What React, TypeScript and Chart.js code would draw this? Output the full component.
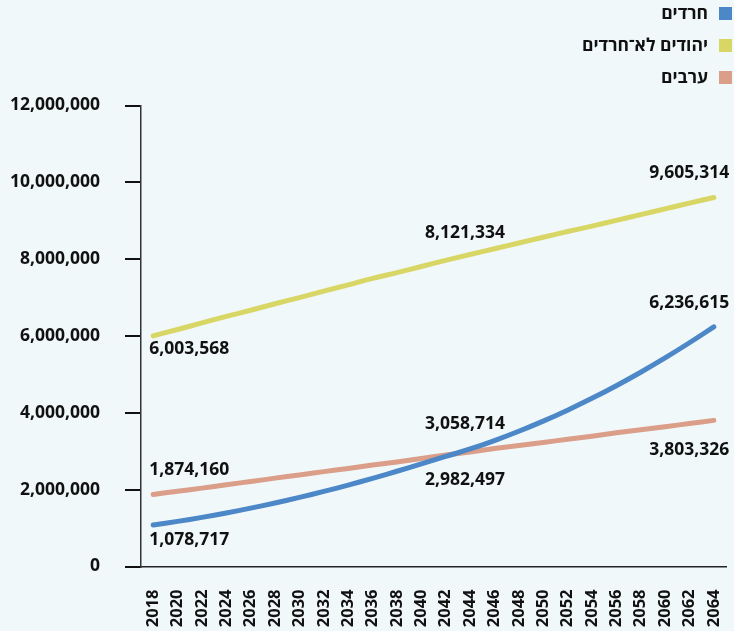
import React, { useEffect, useRef } from "react";
import { Chart, registerables } from "chart.js";

Chart.register(...registerables);

const years = [
  "2018", "2020", "2022", "2024", "2026", "2028", "2030", "2032", "2034", "2036", "2038", "2040",
  "2042", "2044", "2046", "2048", "2050", "2052", "2054", "2056", "2058", "2060", "2062", "2064",
];

const seriesNames = ["חרדים", "יהודים לא־חרדים", "ערבים"];

const haredim = [
  1078717, 1174000, 1279000, 1394000, 1519000, 1654000, 1799000, 1954000, 2119000, 2294000, 2479000, 2669000,
  2864000, 3058714, 3279000, 3521000, 3785000, 4070000, 4377000, 4706000, 5057000, 5430000, 5824000, 6236615,
];

const nonHarediJews = [
  6003568, 6170000, 6340000, 6510000, 6670000, 6840000, 7000000, 7170000, 7330000, 7500000, 7650000, 7810000,
  7970000, 8121334, 8270000, 8420000, 8570000, 8720000, 8860000, 9010000, 9160000, 9310000, 9460000, 9605314,
];

const arabs = [
  1874160, 1960000, 2040000, 2130000, 2210000, 2300000, 2380000, 2470000, 2550000, 2640000, 2720000, 2810000,
  2900000, 2982497, 3070000, 3150000, 3230000, 3310000, 3390000, 3480000, 3560000, 3640000, 3720000, 3803326,
];

const labeledIndices = [0, 13, 23];

const yTicks = [0, 2000000, 4000000, 6000000, 8000000, 10000000, 12000000];

const colors = ["#4C87C8", "#D8D664", "#DA9E89"];

const FONT = "'Open Sans', 'Noto Sans', 'DejaVu Sans', sans-serif";

// per dataset: vertical offsets of the value labels (label centre minus point)
const labelDy = [
  [15.4, -25, -23.5],
  [13, -21.6, -24],
  [-24.5, 28.5, 29.5],
];

const valueLabelPlugin = {
  id: "valueLabels",
  afterDatasetsDraw(chart: any) {
    const ctx = chart.ctx;
    ctx.save();
    ctx.font = `bold 17.5px ${FONT}`;
    ctx.fillStyle = "#111";
    ctx.textBaseline = "middle";
    chart.data.datasets.forEach((ds: any, di: number) => {
      const meta = chart.getDatasetMeta(di);
      labeledIndices.forEach((idx, k) => {
        const pt = meta.data[idx];
        if (!pt) return;
        const text = Number(ds.data[idx]).toLocaleString("en-US");
        let x = pt.x;
        if (k === 0) {
          ctx.textAlign = "left";
          x = pt.x - 4;
        } else if (k === labeledIndices.length - 1) {
          ctx.textAlign = "right";
          x = pt.x + 15.5;
        } else {
          ctx.textAlign = "center";
          x = pt.x - 5;
        }
        ctx.fillText(text, x, pt.y + labelDy[di][k]);
      });
    });
    ctx.restore();
  },
};

const legendPlugin = {
  id: "customLegend",
  afterDraw(chart: any) {
    const ctx = chart.ctx;
    ctx.save();
    ctx.font = `bold 17.5px ${FONT}`;
    ctx.textBaseline = "middle";
    ctx.textAlign = "right";
    chart.data.datasets.forEach((ds: any, i: number) => {
      const cy = 13.5 + i * 32;
      ctx.fillStyle = ds.borderColor;
      ctx.fillRect(719, cy - 6.5, 13, 13);
      ctx.fillStyle = "#111";
      ctx.fillText(ds.label, 708, cy + 1);
    });
    ctx.restore();
  },
};

export default function App() {
  const ref = useRef<HTMLCanvasElement | null>(null);

  useEffect(() => {
    if (!ref.current) return;
    const seriesValues = [haredim, nonHarediJews, arabs];
    const chart = new Chart(ref.current, {
      type: "line",
      data: {
        labels: years,
        datasets: seriesValues.map((vals, i) => ({
          label: seriesNames[i],
          data: vals,
          borderColor: colors[i],
          backgroundColor: colors[i],
          borderWidth: 5,
          borderCapStyle: "round",
          borderJoinStyle: "round",
          pointRadius: 0,
          pointHoverRadius: 0,
          tension: 0.4,
          fill: false,
        })),
      },
      plugins: [valueLabelPlugin, legendPlugin],
      options: {
        responsive: false,
        animation: false,
        layout: { padding: { top: 105.5, right: 8, left: 0, bottom: 0 } },
        plugins: {
          legend: { display: false },
          tooltip: { enabled: false },
        },
        scales: {
          x: {
            type: "category",
            offset: true,
            grid: { display: false, drawTicks: false },
            border: { display: true, color: "#222", width: 1.5 },
            ticks: {
              autoSkip: false,
              minRotation: 90,
              maxRotation: 90,
              padding: 23,
              color: "#111",
              font: { family: FONT, size: 16.5, weight: "bold" },
            },
            afterFit: (s: any) => {
              s.height = 64.5;
              s.paddingLeft = 0;
              s.paddingRight = 0;
            },
          },
          y: {
            min: 0,
            max: 12000000,
            afterBuildTicks: (s: any) => {
              s.ticks = yTicks.map((v) => ({ value: v }));
            },
            grid: {
              drawOnChartArea: false,
              drawTicks: true,
              tickLength: 16,
              color: "#111",
              lineWidth: 2,
            },
            border: { display: true, color: "#333", width: 1.5 },
            ticks: {
              padding: 25,
              color: "#111",
              font: { family: FONT, size: 17.5, weight: "bold" },
              callback: (v: any) => Number(v).toLocaleString("en-US"),
            },
            afterFit: (s: any) => {
              s.width = 141;
            },
          },
        },
      },
    } as any);
    return () => chart.destroy();
  }, []);

  return (
    <div
      style={{
        position: "absolute",
        left: 0,
        top: 0,
        width: 734,
        height: 631,
        background: "#F1F8FA",
      }}
    >
      <canvas ref={ref} width={734} height={631} />
    </div>
  );
}
